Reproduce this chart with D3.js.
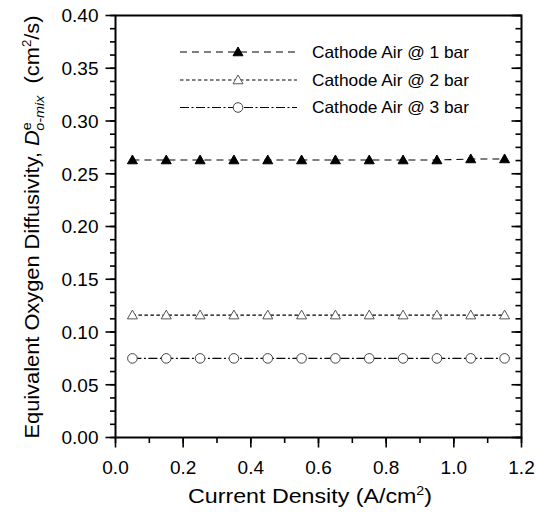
<!DOCTYPE html>
<html><head><meta charset="utf-8">
<script src="https://cdn.jsdelivr.net/npm/d3@7"></script>
<style>body{margin:0;background:#fff}svg{display:block;font-family:"Liberation Sans",Arial,sans-serif}</style>
</head><body>
<svg id="c" width="546" height="519"></svg>
<script>
const xVals = [0.05,0.15,0.25,0.35,0.45,0.55,0.65,0.75,0.85,0.95,1.05,1.15];
const air1bar = [0.263,0.263,0.263,0.263,0.263,0.263,0.263,0.263,0.263,0.263,0.264,0.264];
const air2bar = [0.116,0.116,0.116,0.116,0.116,0.116,0.116,0.116,0.116,0.116,0.116,0.116];
const air3bar = [0.075,0.075,0.075,0.075,0.075,0.075,0.075,0.075,0.075,0.075,0.075,0.075];
const seriesNames = ["Cathode Air @ 1 bar","Cathode Air @ 2 bar","Cathode Air @ 3 bar"];
const xTicks = [0.0,0.2,0.4,0.6,0.8,1.0,1.2];
const yTicks = [0.00,0.05,0.10,0.15,0.20,0.25,0.30,0.35,0.40];

const svg = d3.select("#c");
const L=115.5, R=521.5, T=15.5, B=437.5;
const x = d3.scaleLinear().domain([0,1.2]).range([L,R]);
const y = d3.scaleLinear().domain([0,0.40]).range([B,T]);

const styles = [
  {dash:"7,5", marker:"tri", fill:"#000", stroke:"#000"},
  {dash:"3.5,2.5", marker:"tri", fill:"#fff", stroke:"#555"},
  {dash:"9,2.5,2,2.5", marker:"circ", fill:"none", stroke:"#444"}
];
const data = [air1bar, air2bar, air3bar];

function marker(g, type, cx, cy, st){
  if(type==="tri"){
    const s=5;
    g.append("path").attr("d",`M${cx},${cy-s}L${cx+s},${cy+s*0.75}L${cx-s},${cy+s*0.75}Z`)
      .attr("fill",st.fill).attr("stroke",st.stroke).attr("stroke-width",1);
  } else {
    g.append("circle").attr("cx",cx).attr("cy",cy).attr("r",4.8)
      .attr("fill","#fff").attr("stroke",st.stroke).attr("stroke-width",1);
  }
}
// stretch text horizontally so it spans the target width
function stretch(sel, base, target){
  const w=sel.node().getComputedTextLength();
  sel.attr("transform", base+` scale(${(target/w).toFixed(4)},1)`);
}

// series
data.forEach((vals,i)=>{
  const st=styles[i];
  const line=d3.line().x((d,j)=>x(xVals[j])).y(d=>y(d));
  svg.append("path").datum(vals).attr("d",line).attr("fill","none")
    .attr("stroke","#000").attr("stroke-width",1.1).attr("stroke-dasharray",st.dash);
  const g=svg.append("g");
  vals.forEach((v,j)=>marker(g,st.marker,x(xVals[j]),y(v),st));
});

// axes
const minorY = d3.range(0,0.4001,0.0125);
const minorX = d3.range(0,1.2001,0.1);
const ax = svg.append("g").attr("stroke","#000");
minorY.forEach(v=>ax.append("line").attr("x1",L-5.5).attr("x2",L).attr("y1",y(v)).attr("y2",y(v)).attr("stroke-width",1.6));
yTicks.forEach(v=>ax.append("line").attr("x1",L-10).attr("x2",L).attr("y1",y(v)).attr("y2",y(v)).attr("stroke-width",1.6));
minorY.forEach(v=>ax.append("line").attr("x1",R-6).attr("x2",R).attr("y1",y(v)).attr("y2",y(v)).attr("stroke-width",1.6));
yTicks.forEach(v=>ax.append("line").attr("x1",R-10).attr("x2",R).attr("y1",y(v)).attr("y2",y(v)).attr("stroke-width",1.6));
minorX.forEach(v=>ax.append("line").attr("x1",x(v)).attr("x2",x(v)).attr("y1",B).attr("y2",B+5.5).attr("stroke-width",1.6));
xTicks.forEach(v=>ax.append("line").attr("x1",x(v)).attr("x2",x(v)).attr("y1",B).attr("y2",B+10).attr("stroke-width",1.6));
svg.append("rect").attr("x",L).attr("y",T).attr("width",R-L).attr("height",B-T)
  .attr("fill","none").attr("stroke","#000").attr("stroke-width",2);

// tick labels
svg.append("g").selectAll("text").data(yTicks).join("text")
  .attr("x",98.5).attr("y",d=>y(d)).attr("dy","0.36em").attr("text-anchor","end")
  .attr("font-size",19).text(d=>d3.format(".2f")(d));
svg.append("g").selectAll("text").data(xTicks).join("text")
  .attr("x",d=>x(d)).attr("y",474).attr("text-anchor","middle")
  .attr("font-size",19).text(d=>d3.format(".1f")(d));

// x title
const xt = svg.append("text").attr("text-anchor","middle").attr("font-size",20.5);
xt.append("tspan").text("Current Density  (A/cm");
xt.append("tspan").attr("font-size",12.5).attr("dy",-8).text("2");
xt.append("tspan").attr("dy",8).text(")");
stretch(xt,"translate(310,503)",244);

// y title
const yt = svg.append("text").attr("text-anchor","middle").attr("font-size",20.5);
yt.append("tspan").text("Equivalent Oxygen Diffusivity, ");
yt.append("tspan").attr("font-style","italic").text("D");
yt.append("tspan").attr("font-size",13.5).attr("dy",-8).text("e");
yt.append("tspan").attr("font-size",13.5).attr("font-style","italic").attr("dx",-8).attr("dy",13).text("o-mix");
yt.append("tspan").attr("dy",-5).text("\u00a0\u00a0(cm");
yt.append("tspan").attr("font-size",12.5).attr("dy",-8).text("2");
yt.append("tspan").attr("dy",8).text("/s)");
stretch(yt,"translate(39,227) rotate(-90)",432);

// legend
const legY=[52,80,107.5];
seriesNames.forEach((n,i)=>{
  const st=styles[i];
  svg.append("line").attr("x1",180).attr("x2",297).attr("y1",legY[i]).attr("y2",legY[i])
    .attr("stroke","#000").attr("stroke-width",1.1).attr("stroke-dasharray",st.dash);
  const g=svg.append("g");
  marker(g,st.marker,238,legY[i],st);
  const t=svg.append("text").attr("dy","0.36em").attr("font-size",16.3).text(n);
  stretch(t,`translate(312,${legY[i]})`,157);
});
</script>
</body></html>
